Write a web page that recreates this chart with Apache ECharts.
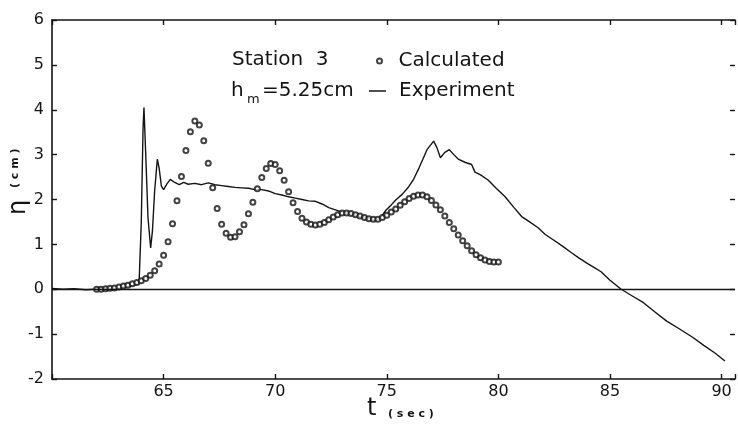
<!DOCTYPE html>
<html>
<head>
<meta charset="utf-8">
<script src="https://cdn.jsdelivr.net/npm/echarts@6/dist/echarts.min.js"></script>
<style>
  html, body { margin: 0; padding: 0; background: #fff; }
  #chart { width: 738px; height: 428px; }
</style>
</head>
<body>
<div id="chart"></div>
<script>
// station 3, h_m = 5.25 cm : water surface elevation eta (cm) against time t (sec)
var calcT = [62.0, 62.2, 62.4, 62.6, 62.8, 63.0, 63.2, 63.4, 63.6, 63.8,
  64.0, 64.2, 64.4, 64.6, 64.8, 65.0, 65.2, 65.4, 65.6, 65.8,
  66.0, 66.2, 66.4, 66.6, 66.8, 67.0, 67.2, 67.4, 67.6, 67.8,
  68.0, 68.2, 68.4, 68.6, 68.8, 69.0, 69.2, 69.4, 69.6, 69.8,
  70.0, 70.2, 70.4, 70.6, 70.8, 71.0, 71.2, 71.4, 71.6, 71.8,
  72.0, 72.2, 72.4, 72.6, 72.8, 73.0, 73.2, 73.4, 73.6, 73.8,
  74.0, 74.2, 74.4, 74.6, 74.8, 75.0, 75.2, 75.4, 75.6, 75.8,
  76.0, 76.2, 76.4, 76.6, 76.8, 77.0, 77.2, 77.4, 77.6, 77.8,
  78.0, 78.2, 78.4, 78.6, 78.8, 79.0, 79.2, 79.4, 79.6, 79.8, 80.0];
var calcEta = [0.00, 0.00, 0.01, 0.02, 0.03, 0.05, 0.07, 0.09, 0.12, 0.15,
  0.19, 0.24, 0.31, 0.41, 0.56, 0.76, 1.06, 1.46, 1.97, 2.51,
  3.09, 3.51, 3.75, 3.66, 3.31, 2.81, 2.26, 1.80, 1.45, 1.25,
  1.16, 1.17, 1.28, 1.44, 1.68, 1.94, 2.24, 2.49, 2.69, 2.80,
  2.78, 2.64, 2.43, 2.17, 1.93, 1.73, 1.58, 1.50, 1.45, 1.43,
  1.45, 1.49, 1.55, 1.61, 1.66, 1.70, 1.70, 1.69, 1.66, 1.63,
  1.60, 1.57, 1.56, 1.56, 1.60, 1.65, 1.72, 1.79, 1.87, 1.95,
  2.02, 2.07, 2.10, 2.10, 2.06, 1.98, 1.88, 1.77, 1.63, 1.49,
  1.35, 1.21, 1.08, 0.97, 0.86, 0.77, 0.70, 0.65, 0.62, 0.61, 0.61];

var expT = [60.0, 60.5, 61.0, 61.5, 62.0, 62.5, 63.0, 63.5, 63.9, 64.0,
  64.08, 64.12, 64.2, 64.3, 64.42, 64.5, 64.6, 64.72, 64.8, 64.9,
  65.0, 65.15, 65.3, 65.5, 65.7, 65.9, 66.1, 66.4, 66.7, 67.0,
  67.3, 67.6, 67.9, 68.2, 68.5, 68.8, 69.1, 69.4, 69.7, 70.0,
  70.3, 70.6, 70.9, 71.2, 71.5, 71.8, 72.1, 72.4, 72.7, 73.0,
  73.3, 73.6, 73.9, 74.2, 74.5, 74.7, 74.96, 75.2, 75.4, 75.7,
  75.99, 76.2, 76.44, 76.6, 76.8, 77.1, 77.25, 77.4, 77.6, 77.8,
  78.0, 78.2, 78.5, 78.8, 78.95, 79.2, 79.55, 79.9, 80.3, 80.7,
  81.04, 81.4, 81.78, 82.1, 82.52, 82.9, 83.26, 83.6, 84.0, 84.3,
  84.6, 85.0, 85.5, 86.0, 86.5, 87.0, 87.54, 88.1, 88.7, 89.2, 89.7, 90.15];
var expEta = [0.02, 0.00, 0.01, -0.01, 0.00, 0.01, 0.03, 0.07, 0.12, 1.5,
  3.6, 4.05, 3.0, 1.6, 0.92, 1.3, 2.2, 2.9, 2.7, 2.3,
  2.22, 2.35, 2.45, 2.38, 2.33, 2.38, 2.34, 2.36, 2.33, 2.37,
  2.33, 2.31, 2.29, 2.27, 2.26, 2.25, 2.22, 2.22, 2.19, 2.13,
  2.10, 2.06, 2.03, 2.00, 1.97, 1.96, 1.90, 1.82, 1.77, 1.72,
  1.69, 1.65, 1.61, 1.57, 1.54, 1.58, 1.76, 1.88, 1.99, 2.12,
  2.29, 2.45, 2.70, 2.88, 3.11, 3.30, 3.15, 2.93, 3.05, 3.11,
  3.00, 2.90, 2.83, 2.78, 2.61, 2.55, 2.43, 2.25, 2.06, 1.82,
  1.62, 1.50, 1.37, 1.22, 1.08, 0.95, 0.82, 0.70, 0.57, 0.48,
  0.39, 0.20, 0.00, -0.15, -0.30, -0.50, -0.71, -0.88, -1.07, -1.25, -1.42, -1.60];

var tMin = 60, tMax = 90.6, tStep = 5;
var etaMin = -2, etaMax = 6, etaStep = 1;

var ink = '#141414';
var font = 'DejaVu Sans';

function pairs(xs, ys) {
  return xs.map(function (x, i) { return [x, ys[i]]; });
}

var chart = echarts.init(document.getElementById('chart'));

var xBase = {
  type: 'value', min: tMin, max: tMax, interval: tStep,
  axisLine: { show: true, onZero: false, lineStyle: { color: ink, width: 1.6 } },
  axisTick: { show: true, inside: true, length: 5, lineStyle: { color: ink, width: 1.4 } },
  splitLine: { show: false }
};
var yBase = {
  type: 'value', min: etaMin, max: etaMax, interval: etaStep,
  axisLine: { show: true, onZero: false, lineStyle: { color: ink, width: 1.6 } },
  axisTick: { show: true, inside: true, length: 5, lineStyle: { color: ink, width: 1.4 } },
  splitLine: { show: false }
};

chart.setOption({
  animation: false,
  backgroundColor: '#fff',
  grid: { left: 52, right: 0, top: 20, bottom: 49 },
  xAxis: [
    Object.assign({}, xBase, {
      position: 'bottom',
      axisLabel: {
        color: ink, fontSize: 16, fontFamily: font, margin: 5,
        formatter: function (v) { return (v > tMin && v % tStep === 0) ? String(v) : ''; }
      }
    }),
    Object.assign({}, xBase, { position: 'top', axisLabel: { show: false } })
  ],
  yAxis: [
    Object.assign({}, yBase, {
      position: 'left',
      axisLabel: {
        color: ink, fontSize: 16, fontFamily: font, margin: 8,
        formatter: function (v) { return v < 0 ? '-' + Math.abs(v) : String(v); }
      }
    }),
    Object.assign({}, yBase, {
      position: 'right',
      axisLine: { show: false, onZero: false },
      axisLabel: { show: false }
    })
  ],
  legend: [
    {
      data: [{ name: 'Calculated', icon: 'emptyCircle' }],
      left: 376, top: 51, itemWidth: 8, itemHeight: 5, padding: 0,
      textStyle: { color: ink, fontSize: 20, fontFamily: font, padding: [0, 0, 0, 10] }
    },
    {
      data: [{ name: 'Experiment', icon: 'rect' }],
      left: 369, top: 81, itemWidth: 17, itemHeight: 1.5, padding: 0,
      itemStyle: { color: ink },
      textStyle: { color: ink, fontSize: 20, fontFamily: font, padding: [0, 0, 0, 8] }
    }
  ],
  graphic: [
    { type: 'text', left: 232, top: 50, style: { text: 'Station  3', font: '20px ' + font, fill: ink } },
    { type: 'text', left: 231, top: 81, style: { text: 'h', font: '20px ' + font, fill: ink } },
    { type: 'text', left: 247, top: 93, style: { text: 'm', font: '13px ' + font, fill: ink } },
    { type: 'text', left: 262, top: 81, style: { text: '=5.25cm', font: '20px ' + font, fill: ink } },
    { type: 'text', x: 19, y: 215, rotation: Math.PI / 2,
      style: { text: 'η', font: '24px ' + font, fill: ink, align: 'left', verticalAlign: 'middle' } },
    { type: 'text', x: 15, y: 188, rotation: Math.PI / 2,
      style: { text: '( c m )', font: 'bold 11px ' + font, fill: ink, align: 'left', verticalAlign: 'middle' } },
    { type: 'text', left: 367, top: 397, style: { text: 't', font: '24px ' + font, fill: ink } },
    { type: 'text', left: 388, top: 409, style: { text: '( s e c )', font: 'bold 11px ' + font, fill: ink } }
  ],
  series: [
    {
      name: 'Experiment', type: 'line', xAxisIndex: 0, yAxisIndex: 0,
      data: pairs(expT, expEta),
      symbol: 'none', smooth: false,
      lineStyle: { color: ink, width: 1.4 },
      itemStyle: { color: ink },
      markLine: {
        silent: true, symbol: ['none', 'none'], label: { show: false },
        lineStyle: { color: ink, width: 1.4, type: 'solid' },
        data: [{ yAxis: 0 }]
      },
      z: 3
    },
    {
      name: 'Calculated', type: 'scatter', xAxisIndex: 0, yAxisIndex: 0,
      data: pairs(calcT, calcEta),
      symbol: 'emptyCircle', symbolSize: 5,
      itemStyle: { color: ink, borderColor: ink, borderWidth: 1.2 },
      z: 4
    }
  ]
});
</script>
</body>
</html>
